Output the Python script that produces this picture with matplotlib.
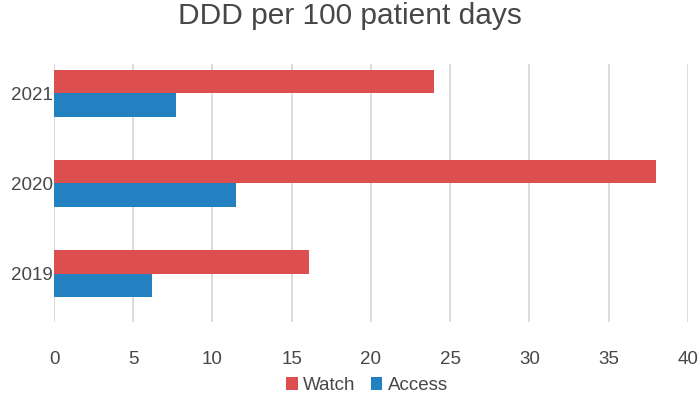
import numpy as np
import matplotlib
matplotlib.use("Agg")
import matplotlib.pyplot as plt

years = ["2019", "2020", "2021"]
watch = [16.1, 38.0, 24.0]
access = [6.2, 11.5, 7.7]
xticks = [0, 5, 10, 15, 20, 25, 30, 35, 40]

red = "#DC4F4E"
blue = "#2381C2"
text_col = "#474747"

plt.rcParams["font.family"] = ["Liberation Sans", "DejaVu Sans"]

fig = plt.figure(figsize=(6.99, 3.93), dpi=100)
ax = fig.add_axes([0.0773, 0.181, 0.9067, 0.656])

y = np.arange(len(years))
h = 0.26
ax.barh(y + h / 2, watch, height=h, color=red, label="Watch", zorder=3)
ax.barh(y - h / 2, access, height=h, color=blue, label="Access", zorder=3)

ax.set_xlim(0, 40)
ax.set_ylim(-0.535, 2.325)
ax.set_xticks(xticks)
ax.set_xticklabels([str(t) for t in xticks])
ax.set_yticks(y)
ax.set_yticklabels(years)
ax.grid(axis="x", color="#D9D9D9", linewidth=1.3, zorder=0)
for s in ax.spines.values():
    s.set_visible(False)
ax.tick_params(length=0, labelsize=13.5, colors=text_col)
ax.tick_params(axis="x", pad=21)
ax.tick_params(axis="y", pad=1)

fig.suptitle("DDD per 100 patient days", y=0.995, fontsize=21.5, color=text_col)

leg = fig.legend(loc="lower center", bbox_to_anchor=(0.525, -0.045), ncol=2,
                 frameon=False, fontsize=13.5, handlelength=0.6, handleheight=0.7,
                 handletextpad=0.3, columnspacing=0.8)
for t in leg.get_texts():
    t.set_color(text_col)

fig.savefig("out.png", dpi=100)
